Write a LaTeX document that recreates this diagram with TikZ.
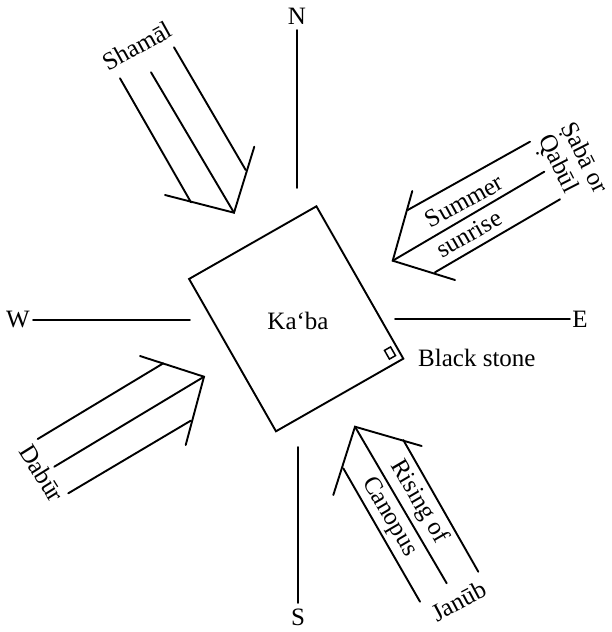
\documentclass[tikz,border=0pt]{standalone}
\usepackage{fontspec}
\setmainfont{Liberation Serif}
\begin{document}
\begin{tikzpicture}[x=1pt,y=-1pt,
  ln/.style={line width=1.9pt,line cap=round,line join=miter},
  lab/.style={font=\fontsize{25}{29}\selectfont,inner sep=0pt}]
\useasboundingbox (0,0) rectangle (612,632);
% Ka'ba
\node[ln,draw,rectangle,rotate=29.7,minimum width=146.6pt,minimum height=175.4pt,inner sep=0pt] (kaaba) at (296.2,318.8) {};
\node[lab] (kl) at (298,321) {Ka‘ba};
\node[line width=1.5pt,draw,rectangle,rotate=29.7,minimum width=7pt,minimum height=10pt,inner sep=0pt] (bs) at (390,353) {};
\node[lab,anchor=west] (bsl) at (418,358) {Black stone};
% compass
\node[lab] (N) at (297,16) {N};
\node[lab] (S) at (298,617) {S};
\node[lab] (W) at (18,320) {W};
\node[lab] (E) at (580,319) {E};
\coordinate (n1) at (297,30); \coordinate (n2) at (297,188);
\coordinate (s1) at (298,447); \coordinate (s2) at (298,603);
\coordinate (w1) at (33,320); \coordinate (w2) at (190,320);
\coordinate (e1) at (395,319); \coordinate (e2) at (570,319);
\draw[ln] (n1) -- (n2); \draw[ln] (s1) -- (s2);
\draw[ln] (w1) -- (w2); \draw[ln] (e1) -- (e2);
% Shamal
\coordinate (a1t) at (234,212.7);
\coordinate (a1l) at (165,195); \coordinate (a1r) at (254.3,146.7);
\coordinate (a1c) at (151,72.3);
\coordinate (a1p) at (120,78.3); \coordinate (a1q) at (191,202.3);
\coordinate (a1u) at (174,47.3); \coordinate (a1v) at (245.7,170);
\draw[ln] (a1l) -- (a1t) -- (a1r);
\draw[ln] (a1c) -- (a1t);
\draw[ln] (a1p) -- (a1q);
\draw[ln] (a1u) -- (a1v);
\node[lab,rotate=29] (sham) at (137,46) {Shamāl};
% Summer sunrise
\coordinate (a2t) at (392.7,260.7);
\coordinate (a2l) at (412.3,191); \coordinate (a2r) at (455,280);
\coordinate (a2c) at (544.3,171.7);
\coordinate (a2p) at (407.7,210); \coordinate (a2q) at (530,141.7);
\coordinate (a2u) at (435,272.3); \coordinate (a2v) at (560,199.3);
\draw[ln] (a2l) -- (a2t) -- (a2r);
\draw[ln] (a2c) -- (a2t);
\draw[ln] (a2p) -- (a2q);
\draw[ln] (a2u) -- (a2v);
\node[lab,rotate=29] (summ) at (464,201) {Summer};
\node[lab,rotate=30] (sunr) at (469,234) {sunrise};
\node[lab,rotate=-63] (saba) at (584,158) {\d{S}abā or};
\node[lab,rotate=-63] (qabul) at (556,165) {\d{Q}abūl};
% Dabur
\coordinate (a3t) at (204,376.7);
\coordinate (a3l) at (140,356); \coordinate (a3r) at (185.7,445);
\coordinate (a3c) at (54.3,466.7);
\coordinate (a3p) at (163.3,363.3); \coordinate (a3q) at (37.7,439);
\coordinate (a3u) at (190.7,420.7); \coordinate (a3v) at (68.3,493.3);
\draw[ln] (a3l) -- (a3t) -- (a3r);
\draw[ln] (a3c) -- (a3t);
\draw[ln] (a3p) -- (a3q);
\draw[ln] (a3u) -- (a3v);
\node[lab,rotate=-58] (dabur) at (42,473) {Dabūr};
% Janub
\coordinate (a4t) at (355,426.7);
\coordinate (a4l) at (333.3,495); \coordinate (a4r) at (421.7,446);
\coordinate (a4c) at (446.7,583.3);
\coordinate (a4p) at (343.3,468.3); \coordinate (a4q) at (420,601.7);
\coordinate (a4u) at (403.3,440); \coordinate (a4v) at (478.3,571.7);
\draw[ln] (a4l) -- (a4t) -- (a4r);
\draw[ln] (a4c) -- (a4t);
\draw[ln] (a4p) -- (a4q);
\draw[ln] (a4u) -- (a4v);
\node[lab,rotate=-59.6] (rising) at (419,502) {Rising of};
\node[lab,rotate=-59.6] (canop) at (389,517) {Canopus};
\node[lab,rotate=28] (janub) at (459,601) {Janūb};
\end{tikzpicture}
\end{document}
